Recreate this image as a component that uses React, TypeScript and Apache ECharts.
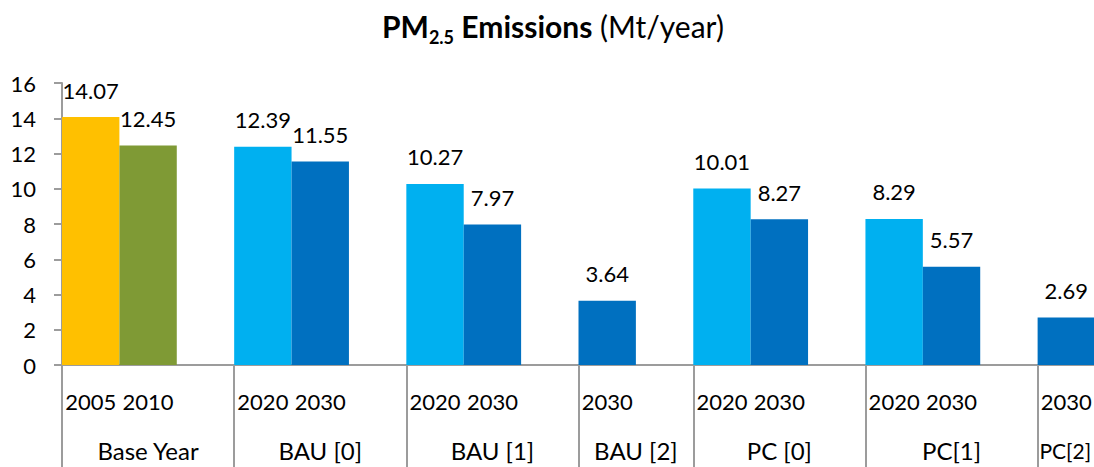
import React, { useEffect, useRef } from 'react';
import * as echarts from 'echarts';

const groups = ['Base Year', 'BAU [0]', 'BAU [1]', 'BAU [2]', 'PC [0]', 'PC[1]', 'PC[2]'];
const groupYears = [
  ['2005', '2010'],
  ['2020', '2030'],
  ['2020', '2030'],
  ['2030'],
  ['2020', '2030'],
  ['2020', '2030'],
  ['2030'],
];
const groupValues = [
  [14.07, 12.45],
  [12.39, 11.55],
  [10.27, 7.97],
  [3.64],
  [10.01, 8.27],
  [8.29, 5.57],
  [2.69],
];
const yearColors: Record<string, string> = {
  '2005': '#FFC000',
  '2010': '#7F9A35',
  '2020': '#00B0F0',
  '2030': '#0070C0',
};
const yMin = 0;
const yMax = 16;
const yStep = 2;

const FONT = 'Lato, "Open Sans", sans-serif';
const AXIS_GRAY = '#9C9C9C';

export default function App() {
  const ref = useRef<HTMLDivElement>(null);

  useEffect(() => {
    if (!ref.current) return;
    const chart = echarts.init(ref.current, undefined, { renderer: 'svg' });

    const leafLabels: string[] = [];
    const leafData: any[] = [];
    const boundaries: number[] = [];
    const groupCenters: number[] = [];
    groups.forEach((g, gi) => {
      const start = leafLabels.length;
      boundaries.push(start);
      groupYears[gi].forEach((y, yi) => {
        leafLabels.push(y);
        leafData.push({ value: groupValues[gi][yi], itemStyle: { color: yearColors[y] } });
      });
      if (gi < groups.length - 1) {
        leafLabels.push('');
        leafData.push({ value: '-', label: { show: false } });
      }
      const span = leafLabels.length - start;
      groupCenters.push(start + span / 2);
    });

    chart.setOption({
      animation: false,
      title: {
        text: '{b|PM}{s|2.5}{b| Emissions}{n| (Mt/year)}',
        left: 382,
        top: 6,
        padding: 0,
        textStyle: {
          rich: {
            b: { fontFamily: FONT, fontSize: 30, fontWeight: 'bold', color: '#000', lineHeight: 40, verticalAlign: 'middle' },
            s: { fontFamily: FONT, fontSize: 18, fontWeight: 'bold', color: '#000', lineHeight: 18, verticalAlign: 'bottom' },
            n: { fontFamily: FONT, fontSize: 30, fontWeight: 'normal', color: '#000', lineHeight: 40, verticalAlign: 'middle' },
          },
        },
      },
      grid: { left: 62, right: -1, top: 83, bottom: 102, containLabel: false, outerBoundsMode: 'none' },
      xAxis: [
        {
          type: 'category',
          data: leafLabels,
          boundaryGap: true,
          axisLine: { show: true, lineStyle: { color: AXIS_GRAY, width: 2 } },
          axisTick: {
            show: true,
            alignWithLabel: false,
            interval: (index: number) => boundaries.includes(index),
            length: 102,
            lineStyle: { color: AXIS_GRAY, width: 2 },
          },
          axisLabel: { interval: 0, margin: 25, fontFamily: FONT, fontSize: 22, color: '#000' },
          splitLine: { show: false },
        },
        {
          type: 'value',
          min: 0,
          max: leafLabels.length,
          position: 'bottom',
          axisLine: { show: false },
          axisTick: { show: false },
          splitLine: { show: false },
          axisLabel: {
            customValues: groupCenters,
            margin: 73,
            fontFamily: FONT,
            fontSize: 24,
            color: '#000',
            formatter: (v: number) => {
              const i = groupCenters.findIndex((c) => Math.abs(c - v) < 1e-6);
              if (i < 0) return '';
              return i === groups.length - 1 ? '{sm|' + groups[i] + '}' : groups[i];
            },
            rich: {
              sm: { fontFamily: FONT, fontSize: 21, color: '#000', padding: [2, 2, 0, 0] },
            },
          },
        },
      ],
      yAxis: {
        type: 'value',
        min: yMin,
        max: yMax,
        interval: yStep,
        axisLine: { show: true, lineStyle: { color: AXIS_GRAY, width: 2 } },
        axisTick: { show: true, inside: false, length: 8, lineStyle: { color: AXIS_GRAY, width: 2 } },
        axisLabel: { margin: 26, fontFamily: FONT, fontSize: 22, color: '#000' },
        splitLine: { show: false },
      },
      series: [
        {
          type: 'bar',
          xAxisIndex: 0,
          data: leafData,
          barWidth: '100%',
          barCategoryGap: 0,
          label: {
            show: true,
            position: 'top',
            distance: 16,
            fontFamily: FONT,
            fontSize: 22,
            color: '#000',
            formatter: (p: any) => (typeof p.value === 'number' ? p.value.toFixed(2) : ''),
          },
        },
      ],
    });

    return () => chart.dispose();
  }, []);

  return (
    <div
      ref={ref}
      style={{ position: 'fixed', left: 0, top: 0, width: 1094, height: 467, background: '#fff' }}
    />
  );
}
